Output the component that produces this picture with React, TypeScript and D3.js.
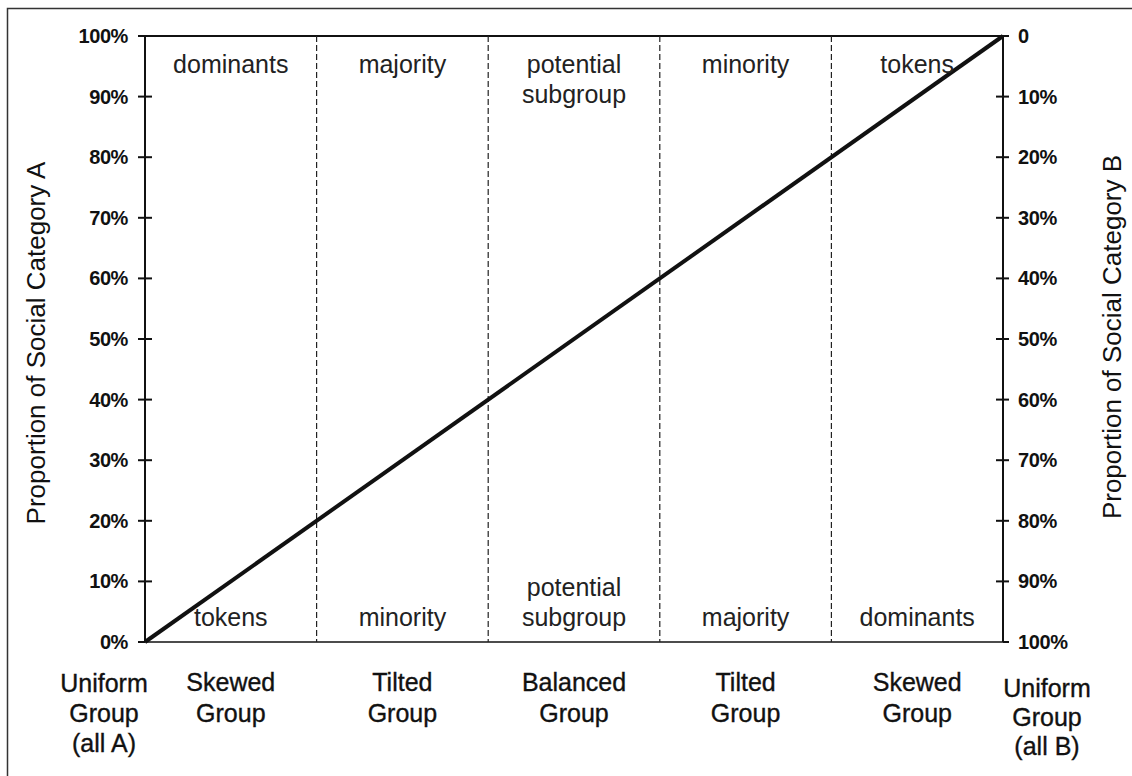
import React from "react";
import * as d3 from "d3";

const tickValues = [0, 10, 20, 30, 40, 50, 60, 70, 80, 90, 100];
const leftTickLabels = ["0%", "10%", "20%", "30%", "40%", "50%", "60%", "70%", "80%", "90%", "100%"];
const rightTickLabels = ["100%", "90%", "80%", "70%", "60%", "50%", "40%", "30%", "20%", "10%", "0"];
const boundaries = [0, 20, 40, 60, 80, 100];
const topLabels = [["dominants"], ["majority"], ["potential", "subgroup"], ["minority"], ["tokens"]];
const bottomLabels = [["tokens"], ["minority"], ["potential", "subgroup"], ["majority"], ["dominants"]];
const columnGroups = [["Skewed", "Group"], ["Tilted", "Group"], ["Balanced", "Group"], ["Tilted", "Group"], ["Skewed", "Group"]];
const uniformLeft = ["Uniform", "Group", "(all A)"];
const uniformRight = ["Uniform", "Group", "(all B)"];
const diagonal: [number, number][] = [[0, 0], [100, 100]];
const leftTitle = "Proportion of Social Category A";
const rightTitle = "Proportion of Social Category B";

const W = 1132;
const H = 776;
const FONT = "'Liberation Sans', Arial, Helvetica, sans-serif";

export default function App() {
  const x = d3.scaleLinear().domain([0, 100]).range([145, 1003]);
  const y = d3.scaleLinear().domain([0, 100]).range([642, 36]);
  const yR = d3.scaleLinear().domain([0, 100]).range([36, 642]);
  const line = d3.line<[number, number]>().x((d) => x(d[0])).y((d) => y(d[1]));
  const centers = boundaries.slice(0, -1).map((b, i) => (x(b) + x(boundaries[i + 1])) / 2);

  return (
    <svg
      width={W}
      height={H}
      style={{ position: "absolute", left: 0, top: 0, background: "#fff" }}
      fontFamily={FONT}
    >
      {/* frame */}
      <rect x={7.5} y={8.5} width={W + 20} height={H + 20} fill="none" stroke="#333" strokeWidth={1.5} />

      {/* top and bottom lines */}
      <line x1={x(0)} x2={x(100)} y1={y(100)} y2={y(100)} stroke="#111" strokeWidth={2} />
      <line x1={x(0) - 7} x2={x(100) + 5} y1={y(0)} y2={y(0)} stroke="#111" strokeWidth={1.6} />

      {/* dashed separators */}
      {boundaries.slice(1, -1).map((b, i) => (
        <line
          key={"d" + i}
          x1={x(b)}
          x2={x(b)}
          y1={y(100)}
          y2={y(0)}
          stroke="#222"
          strokeWidth={1.2}
          strokeDasharray="6,3"
        />
      ))}

      {/* left axis */}
      <line x1={x(0)} x2={x(0)} y1={y(0)} y2={y(100)} stroke="#111" strokeWidth={2} />
      {tickValues.map((v, i) => (
        <g key={"l" + i}>
          <line x1={x(0) - 7} x2={v === 100 || v === 0 ? x(0) : x(0) + 7} y1={y(v)} y2={y(v)} stroke="#111" strokeWidth={2} />
          <text
            x={128}
            y={y(v)}
            dy="0.35em"
            textAnchor="end"
            fontSize={20}
            fontWeight="bold"
            letterSpacing={-0.4}
            fill="#111"
          >
            {leftTickLabels[i]}
          </text>
        </g>
      ))}

      {/* right axis */}
      <line x1={x(100)} x2={x(100)} y1={yR(0)} y2={yR(100)} stroke="#111" strokeWidth={2} />
      {tickValues.map((v, i) => (
        <g key={"r" + i}>
          <line x1={v === 0 || v === 100 ? x(100) : x(100) - 7} x2={x(100) + 6} y1={yR(100 - v)} y2={yR(100 - v)} stroke="#111" strokeWidth={2} />
          <text
            x={1018}
            y={yR(100 - v)}
            dy="0.35em"
            textAnchor="start"
            fontSize={20}
            fontWeight="bold"
            letterSpacing={-0.4}
            fill="#111"
          >
            {rightTickLabels[i]}
          </text>
        </g>
      ))}

      {/* diagonal */}
      <path d={line(diagonal) || ""} fill="none" stroke="#111" strokeWidth={4} />

      {/* top cell labels */}
      {topLabels.map((lines, i) => (
        <text key={"t" + i} x={centers[i]} y={73} textAnchor="middle" fontSize={25} fill="#222">
          {lines.map((s, j) => (
            <tspan key={j} x={centers[i]} dy={j === 0 ? 0 : 30}>
              {s}
            </tspan>
          ))}
        </text>
      ))}

      {/* bottom cell labels */}
      {bottomLabels.map((lines, i) => (
        <text
          key={"b" + i}
          x={centers[i]}
          y={626 - (lines.length - 1) * 30}
          textAnchor="middle"
          fontSize={25}
          fill="#222"
        >
          {lines.map((s, j) => (
            <tspan key={j} x={centers[i]} dy={j === 0 ? 0 : 30}>
              {s}
            </tspan>
          ))}
        </text>
      ))}

      {/* group names below */}
      {columnGroups.map((lines, i) => (
        <text key={"g" + i} x={centers[i]} y={691} textAnchor="middle" fontSize={25} fill="#111" stroke="#111" strokeWidth={0.35}>
          {lines.map((s, j) => (
            <tspan key={j} x={centers[i]} dy={j === 0 ? 0 : 31}>
              {s}
            </tspan>
          ))}
        </text>
      ))}
      <text x={104} y={692} textAnchor="middle" fontSize={25} fill="#111" stroke="#111" strokeWidth={0.35}>
        {uniformLeft.map((s, j) => (
          <tspan key={j} x={104} dy={j === 0 ? 0 : 30}>
            {s}
          </tspan>
        ))}
      </text>
      <text x={1047} y={697} textAnchor="middle" fontSize={25} fill="#111" stroke="#111" strokeWidth={0.35}>
        {uniformRight.map((s, j) => (
          <tspan key={j} x={1047} dy={j === 0 ? 0 : 29}>
            {s}
          </tspan>
        ))}
      </text>

      {/* axis titles */}
      <text
        transform={`translate(45, ${(y(0) + y(100)) / 2 + 4}) rotate(-90)`}
        textAnchor="middle"
        fontSize={26}
        fill="#111"
      >
        {leftTitle}
      </text>
      <text
        transform={`translate(1121, ${(y(0) + y(100)) / 2 - 2}) rotate(-90)`}
        textAnchor="middle"
        fontSize={26}
        fill="#111"
      >
        {rightTitle}
      </text>
    </svg>
  );
}
